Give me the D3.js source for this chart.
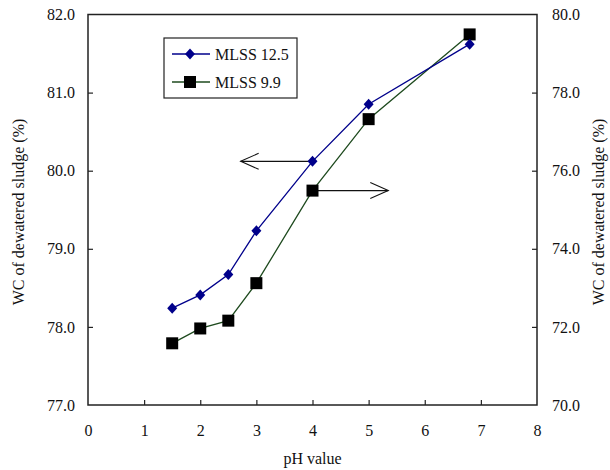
<!DOCTYPE html>
<html><head><meta charset="utf-8">
<script src="https://cdn.jsdelivr.net/npm/d3@7/dist/d3.min.js"></script>
</head><body style="margin:0;background:#fff"><svg id="c" width="610" height="470"></svg>
<script>
const phValues = [1.5, 2, 2.5, 3, 4, 5, 6.8];
const mlss125 = [78.24, 78.41, 78.67, 79.23, 80.12, 80.85, 81.62];
const mlss99 = [71.58, 71.96, 72.16, 73.12, 75.49, 77.32, 79.49];
const seriesNames = ["MLSS 12.5", "MLSS 9.9"];
const xTicks = [0,1,2,3,4,5,6,7,8];
const leftTicks = [77,78,79,80,81,82];
const rightTicks = [70,72,74,76,78,80];
const xTitle = "pH value";
const yTitle = "WC of dewatered sludge (%)";
const arrowLeft = {y: 80.12, from: 4, to: 2.72};
const arrowRight = {y: 75.49, from: 4, to: 5.35};

const FONT = "Liberation Serif";
const svg = d3.select("#c");
const L = 88, R = 537, T = 14.5, B = 405;
const x = d3.scaleLinear().domain([0,8]).range([L,R]);
const yl = d3.scaleLinear().domain([77,82]).range([B,T]);
const yr = d3.scaleLinear().domain([70,80]).range([B,T]);
const fs = 16;
const blue = "#00008b", green = "#1e4a1e";

function setFont(sel){
  return sel.attr("font-family",FONT).attr("font-size",fs).attr("fill","#111");
}

svg.append("rect").attr("x",L).attr("y",T).attr("width",R-L).attr("height",B-T)
  .attr("fill","none").attr("stroke","#222").attr("stroke-width",1.5);

function styleAxis(g){
  g.attr("font-family",null).attr("font-size",null);
  g.select(".domain").remove();
  g.selectAll(".tick line").attr("stroke","#222").attr("stroke-width",1.2);
  setFont(g.selectAll(".tick text"));
}
const gx = svg.append("g").attr("transform",`translate(0,${B})`)
  .call(d3.axisBottom(x).tickValues(xTicks).tickSizeInner(-5).tickSizeOuter(0).tickPadding(20).tickFormat(d3.format("d")));
styleAxis(gx);
gx.selectAll(".tick line").filter(d=>d===0||d===8).remove();
const gl = svg.append("g").attr("transform",`translate(${L},0)`)
  .call(d3.axisLeft(yl).tickValues(leftTicks).tickSizeInner(-5).tickSizeOuter(0).tickPadding(13).tickFormat(d3.format(".1f")));
styleAxis(gl);
gl.selectAll(".tick line").filter(d=>d===77||d===82).remove();
const gr = svg.append("g").attr("transform",`translate(${R},0)`)
  .call(d3.axisRight(yr).tickValues(rightTicks).tickSizeInner(-5).tickSizeOuter(0).tickPadding(15).tickFormat(d3.format(".1f")));
styleAxis(gr);
gr.selectAll(".tick line").filter(d=>d===70||d===80).remove();

function txt(parent){ return setFont((parent||svg).append("text")); }
txt().attr("x",(L+R)/2).attr("y",464).attr("text-anchor","middle").text(xTitle);
txt().attr("transform",`translate(24,212) rotate(-90)`).attr("text-anchor","middle").text(yTitle);
txt().attr("transform",`translate(604,212) rotate(-90)`).attr("text-anchor","middle").text(yTitle);

const d1 = phValues.map((p,i)=>[p,mlss125[i]]);
const d2 = phValues.map((p,i)=>[p,mlss99[i]]);
svg.append("path").datum(d2).attr("fill","none").attr("stroke",green).attr("stroke-width",1.3)
  .attr("d",d3.line().x(d=>x(d[0])).y(d=>yr(d[1])));
svg.append("path").datum(d1).attr("fill","none").attr("stroke",blue).attr("stroke-width",1.3)
  .attr("d",d3.line().x(d=>x(d[0])).y(d=>yl(d[1])));

function arrow(x1,x2,yy,dir){
  const g = svg.append("g").attr("stroke","#111").attr("stroke-width",1.1).attr("fill","none");
  g.append("line").attr("x1",x1).attr("x2",x2).attr("y1",yy).attr("y2",yy);
  g.append("path").attr("d",`M${x2-dir*18},${yy-8}L${x2},${yy}L${x2-dir*18},${yy+8}`);
}
arrow(x(arrowLeft.from), x(arrowLeft.to), yl(arrowLeft.y), -1);
arrow(x(arrowRight.from), x(arrowRight.to), yr(arrowRight.y), 1);

function drawDiamond(g,cx,cy){
  g.append("path").attr("d",`M${cx},${cy-5.5}L${cx+5},${cy}L${cx},${cy+5.5}L${cx-5},${cy}Z`).attr("fill",blue);
}
function drawSquare(g,cx,cy){
  g.append("rect").attr("x",cx-6).attr("y",cy-6).attr("width",12).attr("height",12).attr("fill","#000");
}
const mk = svg.append("g");
d2.forEach(d=>drawSquare(mk,x(d[0]),yr(d[1])));
d1.forEach(d=>drawDiamond(mk,x(d[0]),yl(d[1])));

const lg = svg.append("g");
lg.append("rect").attr("x",164).attr("y",38).attr("width",133).attr("height",60)
  .attr("fill","#fff").attr("stroke","#222").attr("stroke-width",1.2);
[[54,blue,drawDiamond],[82,green,drawSquare]].forEach((r,i)=>{
  lg.append("line").attr("x1",172).attr("x2",210).attr("y1",r[0]).attr("y2",r[0]).attr("stroke",r[1]).attr("stroke-width",1.3);
  r[2](lg,190,r[0]);
  txt(lg).attr("x",215).attr("y",r[0]+6).text(seriesNames[i]);
});
</script></body></html>
